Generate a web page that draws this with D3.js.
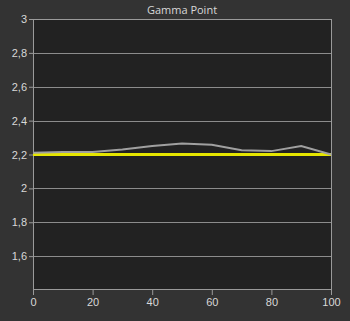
<!DOCTYPE html>
<html>
<head>
<meta charset="utf-8">
<script src="https://cdn.jsdelivr.net/npm/d3@7"></script>
<style>
  body { margin: 0; background: #333333; }
  svg { display: block; font-family: "Open Sans", sans-serif; }
  .axis text { fill: #d8d8d8; font-size: 11px; }
  .axis path, .axis line { stroke: #9a9a9a; }
</style>
</head>
<body>
<div id="chart-area"></div>
<script>

// DATA

var xValues = [0, 10, 20, 30, 40, 50, 60, 70, 80, 90, 100];
var measured = [2.21, 2.215, 2.215, 2.23, 2.25, 2.265, 2.258, 2.225, 2.22, 2.25, 2.2];
var target = [2.2, 2.2, 2.2, 2.2, 2.2, 2.2, 2.2, 2.2, 2.2, 2.2, 2.2];
var yTicks = [1.6, 1.8, 2, 2.2, 2.4, 2.6, 2.8, 3];
var xTicks = [0, 20, 40, 60, 80, 100];
var chartTitle = "Gamma Point";

// CHART AREA

var margin = {top: 19, right: 19, bottom: 31, left: 33},
    width = 350 - margin.left - margin.right,
    height = 321 - margin.top - margin.bottom;

var svg = d3.select("#chart-area").append("svg")
    .attr("width", 350)
    .attr("height", 321);

var g = svg.append("g")
    .attr("transform", "translate(" + margin.left + "," + margin.top + ")");

// SCALES

var x = d3.scaleLinear().domain([0, 100]).range([0, width]);
var y = d3.scaleLinear().domain([1.4, 3]).range([height, 0]);

var fmt = function(d) { return String(d).replace(".", ","); };

// plot background
g.append("rect")
    .attr("width", width)
    .attr("height", height)
    .attr("fill", "#222222");

// grid lines
g.selectAll(".grid")
    .data(yTicks)
    .enter()
    .append("line")
    .attr("class", "grid")
    .attr("x1", 0)
    .attr("x2", width)
    .attr("y1", function(d) { return Math.round(y(d)) + 0.5; })
    .attr("y2", function(d) { return Math.round(y(d)) + 0.5; })
    .attr("stroke", "#8c8c8c")
    .attr("stroke-width", 1);

// frame
g.append("rect")
    .attr("x", 0.5)
    .attr("y", 0.5)
    .attr("width", width)
    .attr("height", height - 1)
    .attr("fill", "none")
    .attr("stroke", "#9a9a9a");

// AXIS

var xAxis = d3.axisBottom(x).tickValues(xTicks).tickSize(5).tickPadding(3);
var yAxis = d3.axisLeft(y).tickValues(yTicks).tickSize(4).tickPadding(2).tickFormat(fmt);

g.append("g")
    .attr("class", "x-axis axis")
    .attr("transform", "translate(0," + height + ")")
    .call(xAxis)
    .call(function(s) { s.select(".domain").remove(); });

g.append("g")
    .attr("class", "y-axis axis")
    .call(yAxis)
    .call(function(s) { s.select(".domain").remove(); });

// LINES

var line = d3.line()
    .x(function(d, i) { return x(xValues[i]); })
    .y(function(d) { return y(d); });

g.append("path")
    .datum(target)
    .attr("d", line)
    .attr("fill", "none")
    .attr("stroke", "#e6e600")
    .attr("stroke-width", 3);

g.append("path")
    .datum(measured)
    .attr("d", line)
    .attr("fill", "none")
    .attr("stroke", "#a0a0a0")
    .attr("stroke-width", 2);

// TITLE

svg.append("text")
    .attr("x", margin.left + width / 2)
    .attr("y", 14)
    .attr("text-anchor", "middle")
    .attr("fill", "#d8d8d8")
    .style("font-size", "11px")
    .text(chartTitle);

</script>
</body>
</html>
